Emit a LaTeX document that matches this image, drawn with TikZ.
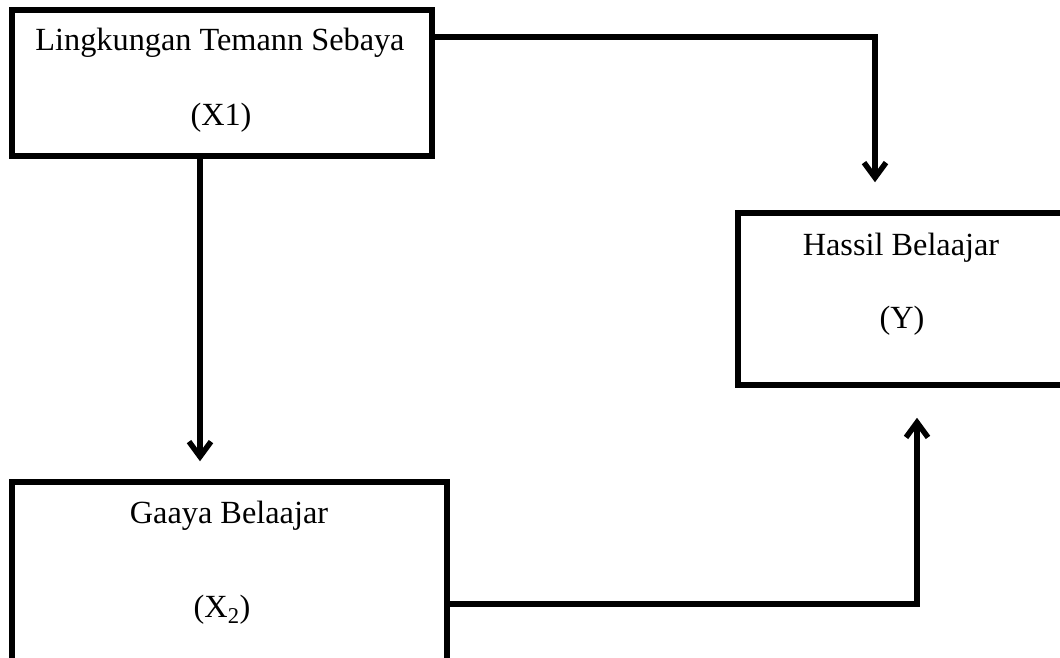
\documentclass[tikz,border=0pt]{standalone}
\usepackage{fontspec}
\setmainfont{Liberation Serif}
\usetikzlibrary{arrows.meta}
\begin{document}
\begin{tikzpicture}[x=1pt,y=-1pt,
  box/.style={draw, line width=5.5pt, inner sep=0pt, minimum width=#1},
  lbl/.style={anchor=base, inner sep=0pt, font=\fontsize{32.3}{38}\selectfont},
  conn/.style={line width=5.5pt, -{Straight Barb[length=15pt,width=22pt]}}]
\useasboundingbox (0,0) rectangle (1060,657);
% boxes
\node[box=420pt, minimum height=146pt] (x1) at (222,83) {};
\node[box=340pt, minimum height=172pt] (y) at (908,299) {};
\node[box=435pt, minimum height=190pt] (x2) at (229.5,577) {};
% labels
\node[lbl] (t1a) at (220,50) {Lingkungan Temann Sebaya};
\node[lbl] (t1b) at (221,125) {(X1)};
\node[lbl] (tya) at (901,255) {Hassil Belaajar};
\node[lbl] (tyb) at (902,328) {(Y)};
\node[lbl] (t2a) at (229,523) {Gaaya Belaajar};
\node[lbl] (t2b) at (222,617) {(X\textsubscript{2})};
% connector coordinates
\coordinate (c1) at (875,37);
\coordinate (d1) at (200,300);
\coordinate (c2) at (917,604);
% connectors
\draw[conn, shorten >=28pt] (x1.east |- c1) -- (c1) -- (y.north -| c1);
\draw[conn, shorten >=18pt] (x1.south -| d1) -- (x2.north -| d1);
\draw[conn, shorten >=30pt] (x2.east |- c2) -- (c2) -- (y.south -| c2);
\end{tikzpicture}
\end{document}
